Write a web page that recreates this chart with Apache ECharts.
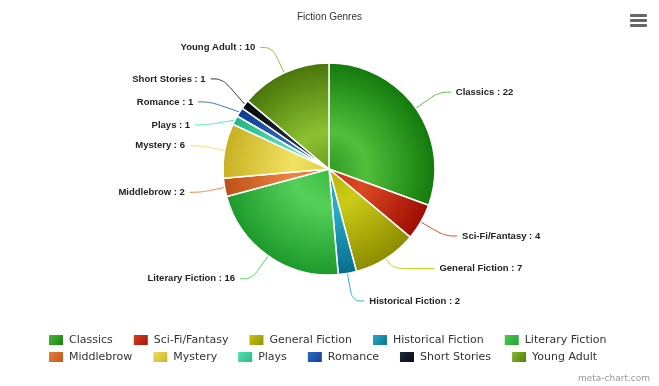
<!DOCTYPE html>
<html>
<head>
<meta charset="utf-8">
<script src="https://cdn.jsdelivr.net/npm/echarts@6/dist/echarts.min.js"></script>
<style>
html,body{margin:0;padding:0;background:#fff;}
#chart{width:659px;height:386px;}
</style>
</head>
<body>
<div id="chart"></div>
<script>
const categories = ['Classics','Sci-Fi/Fantasy','General Fiction','Historical Fiction','Literary Fiction','Middlebrow','Mystery','Plays','Romance','Short Stories','Young Adult'];
const values = [22, 4, 7, 2, 16, 2, 6, 1, 1, 1, 10];
const legendRow1 = categories.slice(0, 5);
const legendRow2 = categories.slice(5);

// [light, mid, dark]
const palette = [
  ['#52bf3c', '#2e9a22', '#127a0c'],
  ['#dc4a22', '#c32a0e', '#9e0c04'],
  ['#cccc18', '#b4b400', '#8c8c00'],
  ['#28b0cc', '#1a92b0', '#086c8c'],
  ['#55d05a', '#3cbc40', '#1e9a2c'],
  ['#ec8444', '#d86a28', '#bc5018'],
  ['#f2e262', '#e0ce40', '#c8b022'],
  ['#5ae4b4', '#3cd6a0', '#22b686'],
  ['#3070cc', '#1a54b2', '#0e3c8e'],
  ['#24303e', '#0e1a26', '#02070c'],
  ['#8cc232', '#6c9c1c', '#4a760a']
];
const cx = 329, cy = 169, R = 106;

// per-slice label styling tweaks
const labelLH = {'Plays': 21, 'Romance': 21, 'Short Stories': 21};
const lineTweak = {
  'General Fiction': {length: 12, length2: 42},
  'Short Stories': {length: 42, length2: 12},
  'Romance': {length: 36, length2: 12}
};

const chart = echarts.init(document.getElementById('chart'), null, {renderer: 'canvas'});

function sliceFill(p) {
  return {
    type: 'radial', x: cx, y: cy, r: R, global: true,
    colorStops: [
      {offset: 0, color: p[1]},
      {offset: 0.35, color: p[0]},
      {offset: 1, color: p[2]}
    ]
  };
}
function iconFill(p) {
  return {
    type: 'linear', x: 0, y: 0, x2: 1, y2: 1,
    colorStops: [{offset: 0, color: p[0]}, {offset: 1, color: p[2]}]
  };
}

const data = categories.map((name, i) => {
  const d = {
    name: name,
    value: values[i],
    itemStyle: {color: sliceFill(palette[i])},
    labelLine: Object.assign({lineStyle: {color: palette[i][0]}}, lineTweak[name] || {})
  };
  if (labelLH[name]) d.label = {lineHeight: labelLH[name]};
  return d;
});

function legendData(names) {
  return names.map(n => ({name: n, itemStyle: {color: iconFill(palette[categories.indexOf(n)])}}));
}

const legendCommon = {
  left: 42,
  orient: 'horizontal',
  itemWidth: 16,
  itemHeight: 12,
  itemGap: 19,
  icon: 'rect',
  selectedMode: false,
  textStyle: {fontFamily: 'DejaVu Sans', fontSize: 11, color: '#333'}
};

chart.setOption({
  animation: false,
  title: {
    text: 'Fiction Genres',
    left: 'center',
    top: 7,
    textStyle: {fontFamily: 'Liberation Sans, Arial', fontSize: 10, fontWeight: 'normal', color: '#333'}
  },
  legend: [
    Object.assign({}, legendCommon, {top: 328, data: legendData(legendRow1)}),
    Object.assign({}, legendCommon, {top: 345, data: legendData(legendRow2)})
  ],
  graphic: [
    {type: 'rect', shape: {x: 630, y: 14, width: 17, height: 3, r: 1}, style: {fill: '#666'}},
    {type: 'rect', shape: {x: 630, y: 19, width: 17, height: 3, r: 1}, style: {fill: '#666'}},
    {type: 'rect', shape: {x: 630, y: 24, width: 17, height: 3, r: 1}, style: {fill: '#666'}},
    {type: 'text', right: 9, bottom: 3, style: {text: 'meta-chart.com', fill: '#999', font: '9px DejaVu Sans'}}
  ],
  series: [{
    type: 'pie',
    center: [cx, cy],
    radius: R,
    startAngle: 90,
    clockwise: true,
    avoidLabelOverlap: true,
    itemStyle: {borderColor: '#fff', borderWidth: 1.5},
    label: {
      show: true,
      formatter: '{b} : {c}',
      fontFamily: 'Liberation Sans, Arial',
      fontSize: 9.5,
      fontWeight: 'bold',
      color: '#222',
      distanceToLabelLine: 5
    },
    labelLine: {show: true, length: 28, length2: 12, smooth: 0.4, lineStyle: {width: 1}},
    emphasis: {disabled: true},
    data: data
  }]
});
</script>
</body>
</html>
